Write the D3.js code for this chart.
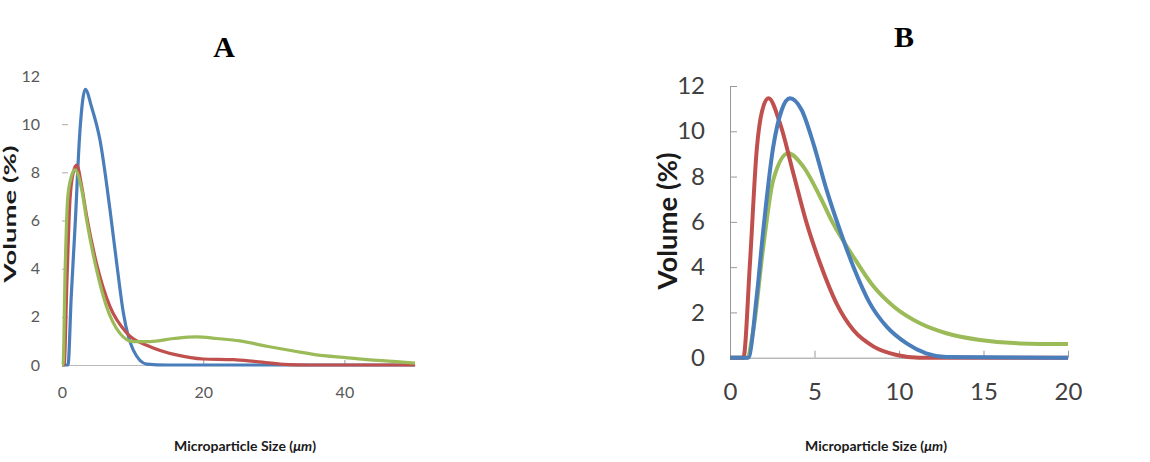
<!DOCTYPE html>
<html>
<head>
<meta charset="utf-8">
<script src="https://cdn.jsdelivr.net/npm/d3@7"></script>
<style>
  body { margin: 0; background: #fff; }
  svg { display: block; }
</style>
</head>
<body>
<script>
// panel A (x up to 50 um)
var aBlueX = [0, 0.85, 1.3, 1.84, 2.55, 3.3, 4.2, 5.38, 6.8, 7.75, 8.7, 10.1, 12, 15, 50];
var aBlueY = [0, 0, 2.8, 5.7, 9.76, 11.45, 10.7, 9.34, 6.44, 4.22, 2.15, 0.62, 0.04, 0, 0];
var aRedX = [0, 0.3, 0.7, 1.13, 1.6, 2.08, 2.8, 3.5, 4.9, 6.8, 9.2, 12.5, 16.2, 20, 24.3, 27.2, 31.4, 35, 50];
var aRedY = [0, 0, 3.5, 6.85, 8.0, 8.3, 7.4, 6.16, 4.2, 2.42, 1.32, 0.76, 0.42, 0.25, 0.22, 0.15, 0.03, 0, 0];
var aGreenX = [0, 0.15, 0.45, 0.8, 1.3, 1.84, 2.8, 3.5, 4.9, 6.3, 8.2, 10.1, 12.5, 15.8, 19.1, 21.9, 25.2, 29, 32.8, 36.6, 39.9, 43.2, 46.9, 50];
var aGreenY = [0, 0, 4, 6.9, 7.8, 8.1, 7.27, 6.0, 3.95, 2.43, 1.32, 0.97, 0.97, 1.1, 1.17, 1.1, 1.0, 0.78, 0.58, 0.4, 0.32, 0.22, 0.15, 0.08];

// panel B (x up to 20 um)
var bBlueX = [0, 1.08, 1.58, 1.97, 2.56, 3.06, 3.55, 4.24, 4.93, 5.72, 6.5, 7.3, 8.28, 9.27, 10.45, 11.6, 12.8, 20];
var bBlueY = [0, 0, 2.7, 5.64, 9.32, 10.94, 11.46, 10.94, 9.47, 7.4, 5.64, 4.02, 2.4, 1.37, 0.63, 0.19, 0.03, 0];
var bRedX = [0, 0.79, 1.18, 1.58, 1.9, 2.28, 2.96, 3.75, 4.54, 5.33, 6.3, 7.3, 8.5, 9.86, 11.2, 20];
var bRedY = [0, 0, 4.17, 9.17, 10.9, 11.46, 10.35, 8.14, 5.93, 4.17, 2.4, 1.22, 0.49, 0.12, 0, 0];
var bGreenX = [0, 1.0, 1.38, 1.97, 2.56, 3.45, 4.34, 5.33, 6.1, 7.3, 8.5, 9.7, 11.24, 12.8, 14.8, 17.2, 20];
var bGreenY = [0, 0, 1.22, 4.9, 7.85, 9.03, 8.44, 7.11, 5.93, 4.46, 3.14, 2.25, 1.52, 1.08, 0.78, 0.63, 0.6];

var aXTicks = [0, 20, 40];
var bXTicks = [0, 5, 10, 15, 20];
var yTicks = [0, 2, 4, 6, 8, 10, 12];

var width = 1150, height = 462;
var blue = "#4a7ebb", red = "#c0504d", green = "#9bbb59";

function zip(xs, ys) {
  return xs.map(function (x, i) { return [x, ys[i]]; });
}

var svg = d3.select("body").append("svg")
  .attr("width", width)
  .attr("height", height);

// ---------- panel A ----------
var xA = d3.scaleLinear().domain([0, 50]).range([62, 415]);
var yA = d3.scaleLinear().domain([0, 12]).range([365, 76]);

var gA = svg.append("g");

gA.append("g")
  .attr("transform", "translate(62,0)")
  .call(d3.axisLeft(yA).tickValues(yTicks).tickSize(-6).tickPadding(22))
  .call(function (g) {
    g.select(".domain").remove();
    g.selectAll(".tick line")
      .attr("stroke", "#aaa")
      .attr("opacity", function (d) { return d === 0 || d === 12 ? 0 : 1; });
    g.selectAll(".tick text")
      .attr("fill", "#595959")
      .style("font", "16px Lato, sans-serif");
  });

gA.append("g")
  .attr("transform", "translate(0,365)")
  .call(d3.axisBottom(xA).tickValues(aXTicks).tickSize(-5).tickSizeOuter(0).tickPadding(22))
  .call(function (g) {
    g.select(".domain").attr("stroke", "#bbb");
    g.selectAll(".tick line").attr("stroke", "#999");
    g.selectAll(".tick text")
      .attr("fill", "#595959")
      .style("font", "16px Lato, sans-serif");
  });

var lineA = d3.line()
  .x(function (d) { return xA(d[0]); })
  .y(function (d) { return yA(d[1]); })
  .curve(d3.curveMonotoneX);

[[aBlueX, aBlueY, blue], [aRedX, aRedY, red], [aGreenX, aGreenY, green]].forEach(function (s) {
  gA.append("path")
    .datum(zip(s[0], s[1]))
    .attr("fill", "none")
    .attr("stroke", s[2])
    .attr("stroke-width", 3.2)
    .attr("stroke-linejoin", "round")
    .attr("d", lineA);
});

gA.append("text")
  .attr("x", 224).attr("y", 57)
  .attr("text-anchor", "middle")
  .style("font", "bold 30px 'Liberation Serif', serif")
  .text("A");

gA.append("text")
  .attr("transform", "translate(16,214) scale(0.62,1) rotate(-90)")
  .attr("text-anchor", "middle")
  .attr("textLength", 137)
  .attr("lengthAdjust", "spacingAndGlyphs")
  .style("font", "bold 27px Lato, sans-serif")
  .attr("fill", "#1a1a1a")
  .text("Volume (%)");

var titleA = gA.append("text")
  .attr("x", 245).attr("y", 451)
  .attr("text-anchor", "middle")
  .style("font", "bold 14px Lato, sans-serif")
  .attr("fill", "#1a1a1a");
titleA.append("tspan").text("Microparticle Size (");
titleA.append("tspan").style("font-style", "italic").text("μm");
titleA.append("tspan").text(")");

// ---------- panel B ----------
var xB = d3.scaleLinear().domain([0, 20]).range([730, 1068]);
var yB = d3.scaleLinear().domain([0, 12]).range([357.7, 86]);

var gB = svg.append("g");

gB.append("g")
  .attr("transform", "translate(730,0)")
  .call(d3.axisLeft(yB).tickValues(yTicks).tickSize(-7).tickSizeOuter(0).tickPadding(25))
  .call(function (g) {
    g.select(".domain").attr("stroke", "#999");
    g.selectAll(".tick line").attr("stroke", "#999");
    g.selectAll(".tick text")
      .attr("fill", "#404040")
      .style("font", "24px Lato, sans-serif");
  });

gB.append("g")
  .attr("transform", "translate(0,357.7)")
  .call(d3.axisBottom(xB).tickValues(bXTicks).tickSize(-7).tickSizeOuter(0).tickPadding(25))
  .call(function (g) {
    g.select(".domain").attr("stroke", "#999");
    g.selectAll(".tick line").attr("stroke", "#999");
    g.selectAll(".tick text")
      .attr("fill", "#404040")
      .style("font", "24px Lato, sans-serif");
  });

var lineB = d3.line()
  .x(function (d) { return xB(d[0]); })
  .y(function (d) { return yB(d[1]); })
  .curve(d3.curveMonotoneX);

[[bGreenX, bGreenY, green], [bRedX, bRedY, red], [bBlueX, bBlueY, blue]].forEach(function (s) {
  gB.append("path")
    .datum(zip(s[0], s[1]))
    .attr("fill", "none")
    .attr("stroke", s[2])
    .attr("stroke-width", 4)
    .attr("stroke-linejoin", "round")
    .attr("d", lineB);
});

gB.append("text")
  .attr("x", 904).attr("y", 47)
  .attr("text-anchor", "middle")
  .style("font", "bold 30px 'Liberation Serif', serif")
  .text("B");

gB.append("text")
  .attr("transform", "translate(677,221) rotate(-90)")
  .attr("text-anchor", "middle")
  .attr("textLength", 137)
  .attr("lengthAdjust", "spacingAndGlyphs")
  .style("font", "bold 27px Lato, sans-serif")
  .attr("fill", "#1a1a1a")
  .text("Volume (%)");

var titleB = gB.append("text")
  .attr("x", 876).attr("y", 451)
  .attr("text-anchor", "middle")
  .style("font", "bold 14px Lato, sans-serif")
  .attr("fill", "#1a1a1a");
titleB.append("tspan").text("Microparticle Size (");
titleB.append("tspan").style("font-style", "italic").text("μm");
titleB.append("tspan").text(")");
</script>
</body>
</html>
